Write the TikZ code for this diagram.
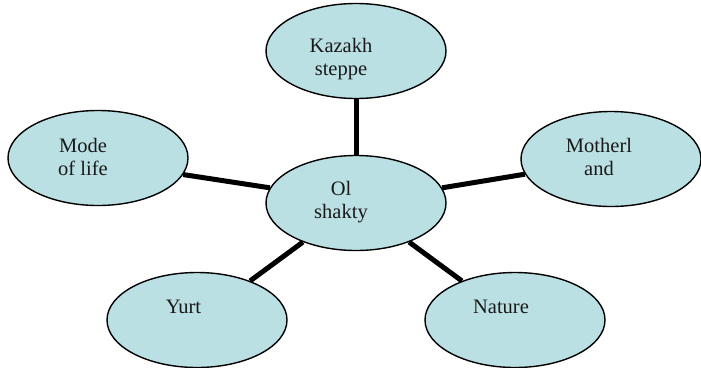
\documentclass[tikz,border=0pt]{standalone}
\usepackage{fontspec}
\setmainfont{Liberation Serif}
\usetikzlibrary{shapes.geometric,backgrounds}
\definecolor{bubble}{RGB}{187,224,227}
\tikzset{
  bubble/.style={ellipse, draw=black, line width=1.4pt, fill=bubble,
    minimum width=180pt, minimum height=95pt, inner sep=0pt},
  label text/.style={anchor=base, align=center, inner sep=0pt,
    font=\fontsize{20.5}{23.5}\selectfont, text=black!90},
  conn/.style={draw=black, line width=5pt}
}
\begin{document}
\begin{tikzpicture}[x=1pt,y=-1pt]
\useasboundingbox (0,0) rectangle (701,367);
% ellipses
\node[bubble] (kaz) at (356,51) {};
\node[bubble] (mode) at (98,158) {};
\node[bubble] (ol) at (356,203) {};
\node[bubble] (moth) at (611,159) {};
\node[bubble] (yurt) at (197,320) {};
\node[bubble] (nature) at (515,320) {};
% texts (base = baseline of the last line)
\node[label text] (tkaz) at (341,75.5) {Kazakh\\steppe};
\node[label text] (tmode) at (83,175.5) {Mode\\of life};
\node[label text] (tol) at (341,218.5) {Ol\\shakty};
\node[label text] (tmoth) at (599,175.5) {Motherl\\and};
\node[label text] (tyurt) at (183.5,313) {Yurt};
\node[label text] (tnature) at (501,313) {Nature};
% connectors
\begin{pgfonlayer}{background}
\draw[conn] (kaz) -- (ol);
\draw[conn] (mode.-11) -- (ol.170);
\draw[conn] (ol.10) -- (moth.190);
\draw[conn] (ol) -- (yurt);
\draw[conn] (ol) -- (nature);
\end{pgfonlayer}
\end{tikzpicture}
\end{document}
